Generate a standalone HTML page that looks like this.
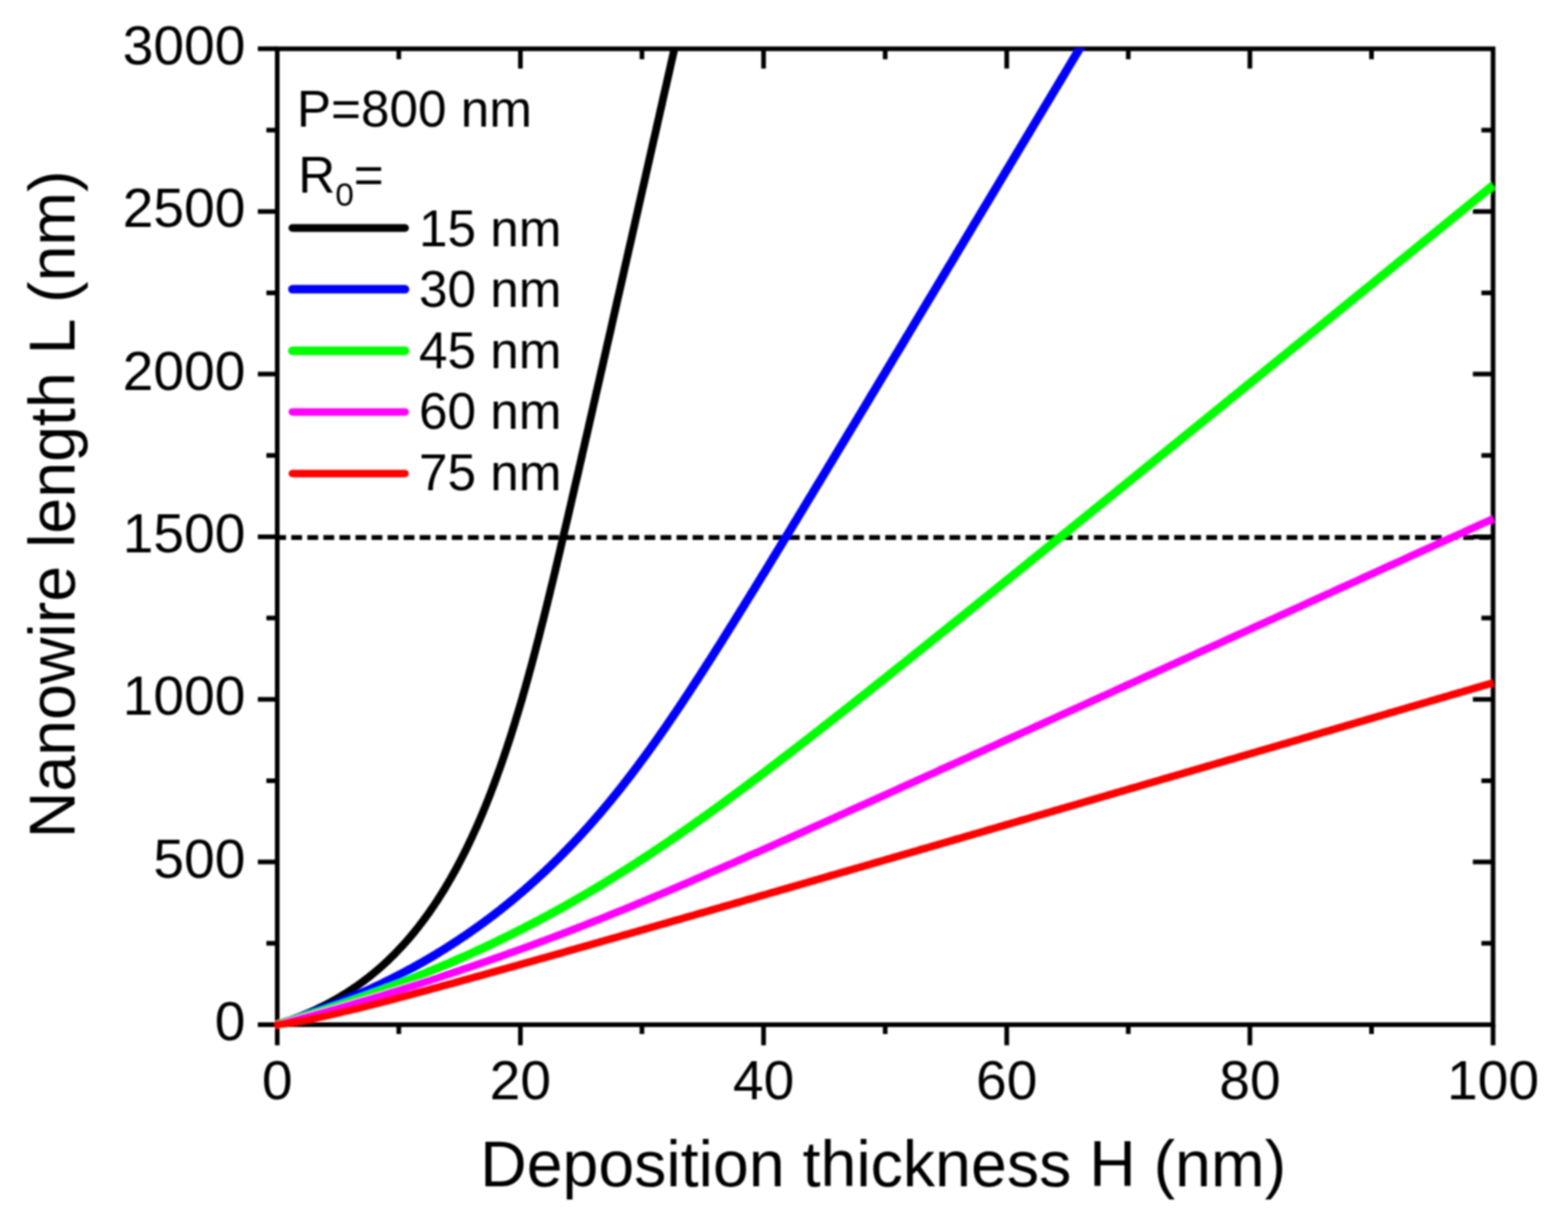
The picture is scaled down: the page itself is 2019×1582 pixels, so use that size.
<!DOCTYPE html>
<html><head><meta charset="utf-8"><style>
html,body{margin:0;padding:0;background:#fff;}
svg{display:block;}
text{font-family:"Liberation Sans",Arial,sans-serif;fill:#000;}
</style></head><body>
<svg width="2019" height="1582" viewBox="0 0 2019 1582">
<rect width="2019" height="1582" fill="#fff"/>
<defs><filter id="soft" x="0" y="0" width="2019" height="1582" filterUnits="userSpaceOnUse"><feGaussianBlur stdDeviation="0.9"/></filter><clipPath id="pc"><rect x="354" y="62.6" width="1570.8" height="1261.4"/></clipPath></defs>
<g filter="url(#soft)">
<g fill="none" stroke="#000" stroke-width="6">
<rect x="357.0" y="62.8" width="1565.5" height="1256.2"/>
<path d="M332.0 1319.0H357.0 M343.0 1214.3H357.0 M1907.5 1214.3H1922.5 M332.0 1109.6H357.0 M1896.5 1109.6H1922.5 M343.0 1005.0H357.0 M1907.5 1005.0H1922.5 M332.0 900.3H357.0 M1896.5 900.3H1922.5 M343.0 795.6H357.0 M1907.5 795.6H1922.5 M332.0 690.9H357.0 M1896.5 690.9H1922.5 M343.0 586.2H357.0 M1907.5 586.2H1922.5 M332.0 481.5H357.0 M1896.5 481.5H1922.5 M343.0 376.9H357.0 M1907.5 376.9H1922.5 M332.0 272.2H357.0 M1896.5 272.2H1922.5 M343.0 167.5H357.0 M1907.5 167.5H1922.5 M332.0 62.8H357.0 M357.0 1319.0V1345.5 M513.5 1319.0V1331.0 M513.5 62.8V76.3 M670.1 1319.0V1345.5 M670.1 62.8V88.3 M826.6 1319.0V1331.0 M826.6 62.8V76.3 M983.2 1319.0V1345.5 M983.2 62.8V88.3 M1139.8 1319.0V1331.0 M1139.8 62.8V76.3 M1296.3 1319.0V1345.5 M1296.3 62.8V88.3 M1452.8 1319.0V1331.0 M1452.8 62.8V76.3 M1609.4 1319.0V1345.5 M1609.4 62.8V88.3 M1766.0 1319.0V1331.0 M1766.0 62.8V76.3 M1922.5 1319.0V1345.5"/>
</g>
<path d="M354.4 691.9H1922.5" stroke="#000" stroke-width="6.4" stroke-dasharray="13.9 6.77" fill="none"/>
<g fill="none" clip-path="url(#pc)" stroke-linejoin="round">
<path d="M352.3 1320.5 L357.0 1319.0 L360.9 1317.7 L364.8 1316.4 L368.7 1315.0 L372.7 1313.7 L376.6 1312.2 L380.5 1310.7 L384.4 1309.2 L388.3 1307.6 L392.2 1306.0 L396.1 1304.3 L400.1 1302.6 L404.0 1300.9 L407.9 1299.0 L411.8 1297.1 L415.7 1295.2 L419.6 1293.2 L423.5 1291.2 L425.5 1290.1 L427.4 1289.0 L429.4 1288.0 L431.4 1286.9 L433.3 1285.8 L435.3 1284.6 L437.2 1283.5 L439.2 1282.3 L441.1 1281.1 L443.1 1279.9 L445.1 1278.7 L447.0 1277.5 L449.0 1276.2 L450.9 1274.9 L452.9 1273.7 L454.8 1272.3 L456.8 1271.0 L458.8 1269.7 L460.7 1268.3 L462.7 1266.9 L464.6 1265.5 L466.6 1264.0 L468.5 1262.6 L470.5 1261.1 L472.5 1259.6 L474.4 1258.1 L476.4 1256.5 L478.3 1255.0 L480.3 1253.4 L482.2 1251.8 L484.2 1250.1 L486.2 1248.5 L488.1 1246.8 L490.1 1245.1 L492.0 1243.3 L494.0 1241.6 L495.9 1239.8 L497.9 1238.0 L499.9 1236.1 L501.8 1234.2 L503.8 1232.3 L505.7 1230.4 L507.7 1228.5 L509.6 1226.5 L511.6 1224.4 L513.5 1222.4 L515.5 1220.3 L517.5 1218.2 L519.4 1216.1 L521.4 1213.9 L523.3 1211.7 L525.3 1209.5 L527.2 1207.2 L529.2 1204.9 L531.2 1202.5 L533.1 1200.2 L535.1 1197.8 L537.0 1195.3 L539.0 1192.8 L540.9 1190.3 L542.9 1187.7 L544.9 1185.2 L546.8 1182.5 L548.8 1179.8 L550.7 1177.1 L552.7 1174.4 L554.6 1171.6 L556.6 1168.7 L558.6 1165.9 L560.5 1162.9 L562.5 1160.0 L564.4 1157.0 L566.4 1153.9 L568.3 1150.8 L570.3 1147.7 L572.3 1144.5 L574.2 1141.2 L576.2 1137.9 L578.1 1134.6 L580.1 1131.2 L582.0 1127.8 L584.0 1124.3 L586.0 1120.7 L587.9 1117.1 L589.9 1113.5 L591.8 1109.8 L593.8 1106.0 L595.7 1102.2 L597.7 1098.3 L599.7 1094.4 L601.6 1090.4 L603.6 1086.3 L605.5 1082.2 L607.5 1078.1 L609.4 1073.8 L611.4 1069.5 L613.4 1065.2 L615.3 1060.7 L617.3 1056.2 L619.2 1051.7 L621.2 1047.1 L623.1 1042.4 L625.1 1037.6 L627.0 1032.8 L629.0 1027.9 L631.0 1022.9 L632.9 1017.8 L634.9 1012.7 L636.8 1007.5 L638.8 1002.2 L640.7 996.9 L642.7 991.4 L644.7 985.9 L646.6 980.3 L648.6 974.6 L650.5 968.9 L652.5 963.0 L654.4 957.1 L656.4 951.1 L658.4 945.0 L660.3 938.8 L662.3 932.6 L664.2 926.2 L666.2 919.8 L668.1 913.3 L670.1 906.7 L672.1 900.0 L674.0 893.2 L676.0 886.4 L677.9 879.4 L679.9 872.4 L681.8 865.3 L683.8 858.1 L685.8 850.8 L687.7 843.5 L689.7 836.0 L691.6 828.5 L693.6 821.0 L695.5 813.3 L697.5 805.6 L699.5 797.8 L701.4 790.0 L703.4 782.1 L705.3 774.2 L707.3 766.2 L709.2 758.1 L711.2 750.1 L713.2 741.9 L715.1 733.8 L717.1 725.5 L719.0 717.3 L721.0 709.0 L722.9 700.7 L724.9 692.4 L726.8 684.0 L728.8 675.7 L730.8 667.3 L732.7 658.8 L734.7 650.4 L736.6 642.0 L738.6 633.5 L740.5 625.0 L742.5 616.5 L744.5 608.0 L746.4 599.5 L748.4 591.0 L750.3 582.4 L752.3 573.9 L754.2 565.3 L756.2 556.8 L758.2 548.2 L760.1 539.7 L762.1 531.1 L764.0 522.5 L766.0 513.9 L767.9 505.4 L769.9 496.8 L771.9 488.2 L773.8 479.6 L775.8 471.0 L777.7 462.4 L779.7 453.8 L781.6 445.2 L783.6 436.6 L785.6 428.0 L787.5 419.4 L789.5 410.7 L791.4 402.1 L793.4 393.5 L795.3 384.9 L797.3 376.3 L799.3 367.7 L801.2 359.1 L803.2 350.4 L805.1 341.8 L807.1 333.2 L809.0 324.6 L811.0 315.9 L813.0 307.3 L814.9 298.7 L816.9 290.1 L818.8 281.5 L820.8 272.8 L822.7 264.2 L824.7 255.6 L826.6 247.0 L828.6 238.3 L830.6 229.7 L832.5 221.1 L834.5 212.4 L836.4 203.8 L838.4 195.2 L840.3 186.6 L842.3 177.9 L844.3 169.3 L846.2 160.7 L848.2 152.0 L850.1 143.4 L852.1 134.8 L854.0 126.2 L856.0 117.5 L858.0 108.9 L859.9 100.3 L861.9 91.6 L863.8 83.0 L865.8 74.4 L867.7 65.8 L869.7 57.1 L871.7 48.5 L873.6 39.9" stroke="#000000" stroke-width="10.0"/>
<path d="M352.3 1320.5 L357.0 1319.0 L360.9 1317.8 L364.8 1316.5 L368.7 1315.2 L372.7 1313.9 L376.6 1312.6 L380.5 1311.3 L384.4 1310.0 L388.3 1308.6 L392.2 1307.3 L396.1 1305.9 L400.1 1304.5 L404.0 1303.1 L407.9 1301.6 L411.8 1300.2 L415.7 1298.7 L419.6 1297.2 L423.5 1295.7 L427.4 1294.1 L431.4 1292.6 L435.3 1291.0 L439.2 1289.4 L443.1 1287.8 L447.0 1286.2 L450.9 1284.5 L454.8 1282.9 L458.8 1281.2 L462.7 1279.5 L466.6 1277.7 L470.5 1276.0 L474.4 1274.2 L478.3 1272.4 L482.2 1270.6 L486.2 1268.7 L490.1 1266.9 L494.0 1265.0 L497.9 1263.0 L501.8 1261.1 L505.7 1259.1 L509.6 1257.1 L513.5 1255.1 L517.5 1253.1 L521.4 1251.0 L525.3 1248.9 L527.2 1247.9 L529.2 1246.8 L531.2 1245.7 L533.1 1244.7 L535.1 1243.6 L537.0 1242.5 L539.0 1241.4 L540.9 1240.3 L542.9 1239.2 L544.9 1238.1 L546.8 1236.9 L548.8 1235.8 L550.7 1234.7 L552.7 1233.5 L554.6 1232.4 L556.6 1231.2 L558.6 1230.0 L560.5 1228.9 L562.5 1227.7 L564.4 1226.5 L566.4 1225.3 L568.3 1224.1 L570.3 1222.9 L572.3 1221.7 L574.2 1220.4 L576.2 1219.2 L578.1 1218.0 L580.1 1216.7 L582.0 1215.5 L584.0 1214.2 L586.0 1212.9 L587.9 1211.6 L589.9 1210.3 L591.8 1209.0 L593.8 1207.7 L595.7 1206.4 L597.7 1205.1 L599.7 1203.8 L601.6 1202.4 L603.6 1201.1 L605.5 1199.7 L607.5 1198.4 L609.4 1197.0 L611.4 1195.6 L613.4 1194.2 L615.3 1192.8 L617.3 1191.4 L619.2 1190.0 L621.2 1188.6 L623.1 1187.2 L625.1 1185.7 L627.0 1184.3 L629.0 1182.8 L631.0 1181.3 L632.9 1179.8 L634.9 1178.4 L636.8 1176.9 L638.8 1175.4 L640.7 1173.8 L642.7 1172.3 L644.7 1170.8 L646.6 1169.2 L648.6 1167.7 L650.5 1166.1 L652.5 1164.5 L654.4 1163.0 L656.4 1161.4 L658.4 1159.8 L660.3 1158.1 L662.3 1156.5 L664.2 1154.9 L666.2 1153.2 L668.1 1151.6 L670.1 1149.9 L672.1 1148.3 L674.0 1146.6 L676.0 1144.9 L677.9 1143.2 L679.9 1141.5 L681.8 1139.7 L683.8 1138.0 L685.8 1136.2 L687.7 1134.5 L689.7 1132.7 L691.6 1130.9 L693.6 1129.1 L695.5 1127.3 L697.5 1125.5 L699.5 1123.7 L701.4 1121.9 L703.4 1120.0 L705.3 1118.1 L707.3 1116.3 L709.2 1114.4 L711.2 1112.5 L713.2 1110.6 L715.1 1108.7 L717.1 1106.7 L719.0 1104.8 L721.0 1102.8 L722.9 1100.9 L724.9 1098.9 L726.8 1096.9 L728.8 1094.9 L730.8 1092.9 L732.7 1090.9 L734.7 1088.8 L736.6 1086.8 L738.6 1084.7 L740.5 1082.6 L742.5 1080.6 L744.5 1078.5 L746.4 1076.3 L748.4 1074.2 L750.3 1072.1 L752.3 1069.9 L754.2 1067.8 L756.2 1065.6 L758.2 1063.4 L760.1 1061.2 L762.1 1059.0 L764.0 1056.7 L766.0 1054.5 L767.9 1052.2 L769.9 1050.0 L771.9 1047.7 L773.8 1045.4 L775.8 1043.1 L777.7 1040.8 L779.7 1038.4 L781.6 1036.1 L783.6 1033.7 L785.6 1031.4 L787.5 1029.0 L789.5 1026.6 L791.4 1024.2 L793.4 1021.7 L795.3 1019.3 L797.3 1016.8 L799.3 1014.4 L801.2 1011.9 L803.2 1009.4 L805.1 1006.9 L807.1 1004.4 L809.0 1001.9 L811.0 999.3 L813.0 996.8 L814.9 994.2 L816.9 991.6 L818.8 989.0 L820.8 986.4 L822.7 983.8 L824.7 981.1 L826.6 978.5 L828.6 975.8 L830.6 973.2 L832.5 970.5 L834.5 967.8 L836.4 965.1 L838.4 962.4 L840.3 959.6 L842.3 956.9 L844.3 954.1 L846.2 951.4 L848.2 948.6 L850.1 945.8 L852.1 943.0 L854.0 940.2 L856.0 937.4 L858.0 934.5 L859.9 931.7 L861.9 928.8 L863.8 926.0 L865.8 923.1 L867.7 920.2 L869.7 917.3 L871.7 914.4 L873.6 911.5 L875.6 908.6 L877.5 905.7 L879.5 902.7 L881.4 899.8 L883.4 896.8 L885.4 893.9 L887.3 890.9 L889.3 887.9 L891.2 884.9 L893.2 881.9 L895.1 878.9 L897.1 875.9 L899.1 872.9 L901.0 869.9 L903.0 866.8 L904.9 863.8 L906.9 860.7 L908.8 857.7 L910.8 854.6 L912.8 851.6 L914.7 848.5 L916.7 845.4 L918.6 842.4 L920.6 839.3 L922.5 836.2 L924.5 833.1 L926.5 830.0 L928.4 826.9 L930.4 823.8 L932.3 820.7 L934.3 817.5 L936.2 814.4 L938.2 811.3 L940.1 808.1 L942.1 805.0 L944.1 801.9 L946.0 798.7 L948.0 795.6 L949.9 792.4 L951.9 789.3 L953.8 786.1 L955.8 783.0 L957.8 779.8 L959.7 776.6 L961.7 773.5 L963.6 770.3 L965.6 767.1 L967.5 763.9 L969.5 760.8 L971.5 757.6 L973.4 754.4 L975.4 751.2 L977.3 748.0 L979.3 744.8 L981.2 741.6 L983.2 738.5 L985.2 735.3 L987.1 732.1 L989.1 728.9 L991.0 725.7 L993.0 722.5 L994.9 719.2 L996.9 716.0 L998.9 712.8 L1000.8 709.6 L1002.8 706.4 L1004.7 703.2 L1006.7 700.0 L1008.6 696.8 L1010.6 693.5 L1012.6 690.3 L1014.5 687.1 L1016.5 683.9 L1018.4 680.7 L1020.4 677.4 L1022.3 674.2 L1024.3 671.0 L1026.3 667.8 L1028.2 664.5 L1030.2 661.3 L1032.1 658.1 L1034.1 654.9 L1036.0 651.6 L1038.0 648.4 L1039.9 645.2 L1041.9 641.9 L1043.9 638.7 L1045.8 635.5 L1047.8 632.2 L1049.7 629.0 L1051.7 625.7 L1053.6 622.5 L1055.6 619.3 L1057.6 616.0 L1059.5 612.8 L1061.5 609.6 L1063.4 606.3 L1065.4 603.1 L1067.3 599.8 L1069.3 596.6 L1071.3 593.3 L1073.2 590.1 L1075.2 586.9 L1077.1 583.6 L1079.1 580.4 L1081.0 577.1 L1083.0 573.9 L1085.0 570.6 L1086.9 567.4 L1088.9 564.1 L1090.8 560.9 L1092.8 557.6 L1094.7 554.4 L1096.7 551.1 L1098.7 547.9 L1100.6 544.7 L1102.6 541.4 L1104.5 538.2 L1106.5 534.9 L1108.4 531.7 L1110.4 528.4 L1112.4 525.2 L1114.3 521.9 L1116.3 518.7 L1118.2 515.4 L1120.2 512.1 L1122.1 508.9 L1124.1 505.6 L1126.1 502.4 L1128.0 499.1 L1130.0 495.9 L1131.9 492.6 L1133.9 489.4 L1135.8 486.1 L1137.8 482.9 L1139.8 479.6 L1141.7 476.4 L1143.7 473.1 L1145.6 469.9 L1147.6 466.6 L1149.5 463.3 L1151.5 460.1 L1153.4 456.8 L1155.4 453.6 L1157.4 450.3 L1159.3 447.1 L1161.3 443.8 L1163.2 440.6 L1165.2 437.3 L1167.1 434.0 L1169.1 430.8 L1171.1 427.5 L1173.0 424.3 L1175.0 421.0 L1176.9 417.8 L1178.9 414.5 L1180.8 411.3 L1182.8 408.0 L1184.8 404.7 L1186.7 401.5 L1188.7 398.2 L1190.6 395.0 L1192.6 391.7 L1194.5 388.5 L1196.5 385.2 L1198.5 381.9 L1200.4 378.7 L1202.4 375.4 L1204.3 372.2 L1206.3 368.9 L1208.2 365.6 L1210.2 362.4 L1212.2 359.1 L1214.1 355.9 L1216.1 352.6 L1218.0 349.4 L1220.0 346.1 L1221.9 342.8 L1223.9 339.6 L1225.9 336.3 L1227.8 333.1 L1229.8 329.8 L1231.7 326.5 L1233.7 323.3 L1235.6 320.0 L1237.6 316.8 L1239.6 313.5 L1241.5 310.2 L1243.5 307.0 L1245.4 303.7 L1247.4 300.5 L1249.3 297.2 L1251.3 294.0 L1253.2 290.7 L1255.2 287.4 L1257.2 284.2 L1259.1 280.9 L1261.1 277.7 L1263.0 274.4 L1265.0 271.1 L1266.9 267.9 L1268.9 264.6 L1270.9 261.4 L1272.8 258.1 L1274.8 254.8 L1276.7 251.6 L1278.7 248.3 L1280.6 245.1 L1282.6 241.8 L1284.6 238.5 L1286.5 235.3 L1288.5 232.0 L1290.4 228.8 L1292.4 225.5 L1294.3 222.2 L1296.3 219.0 L1298.3 215.7 L1300.2 212.4 L1302.2 209.2 L1304.1 205.9 L1306.1 202.7 L1308.0 199.4 L1310.0 196.1 L1312.0 192.9 L1313.9 189.6 L1315.9 186.4 L1317.8 183.1 L1319.8 179.8 L1321.7 176.6 L1323.7 173.3 L1325.7 170.1 L1327.6 166.8 L1329.6 163.5 L1331.5 160.3 L1333.5 157.0 L1335.4 153.8 L1337.4 150.5 L1339.4 147.2 L1341.3 144.0 L1343.3 140.7 L1345.2 137.4 L1347.2 134.2 L1349.1 130.9 L1351.1 127.7 L1353.0 124.4 L1355.0 121.1 L1357.0 117.9 L1358.9 114.6 L1360.9 111.4 L1362.8 108.1 L1364.8 104.8 L1366.7 101.6 L1368.7 98.3 L1370.7 95.1 L1372.6 91.8 L1374.6 88.5 L1376.5 85.3 L1378.5 82.0 L1380.4 78.7 L1382.4 75.5 L1384.4 72.2 L1386.3 69.0 L1388.3 65.7 L1390.2 62.4 L1392.2 59.2 L1394.1 55.9 L1396.1 52.7 L1398.1 49.4 L1400.0 46.1" stroke="#0000ff" stroke-width="11.0"/>
<path d="M352.3 1320.4 L357.0 1319.0 L360.9 1317.9 L364.8 1316.7 L368.7 1315.5 L372.7 1314.4 L376.6 1313.2 L380.5 1312.0 L384.4 1310.8 L388.3 1309.6 L392.2 1308.4 L396.1 1307.2 L400.1 1306.0 L404.0 1304.7 L407.9 1303.5 L411.8 1302.2 L415.7 1301.0 L419.6 1299.7 L423.5 1298.4 L427.4 1297.1 L431.4 1295.8 L435.3 1294.5 L439.2 1293.2 L443.1 1291.9 L447.0 1290.5 L450.9 1289.2 L454.8 1287.8 L458.8 1286.5 L462.7 1285.1 L466.6 1283.7 L470.5 1282.3 L474.4 1280.9 L478.3 1279.5 L482.2 1278.1 L486.2 1276.7 L490.1 1275.2 L494.0 1273.8 L497.9 1272.3 L501.8 1270.9 L505.7 1269.4 L509.6 1267.9 L513.5 1266.4 L517.5 1264.9 L521.4 1263.3 L525.3 1261.8 L529.2 1260.3 L533.1 1258.7 L537.0 1257.1 L540.9 1255.6 L544.9 1254.0 L548.8 1252.4 L552.7 1250.8 L556.6 1249.1 L560.5 1247.5 L564.4 1245.9 L568.3 1244.2 L572.3 1242.5 L576.2 1240.9 L580.1 1239.2 L584.0 1237.5 L587.9 1235.7 L591.8 1234.0 L595.7 1232.3 L599.7 1230.5 L603.6 1228.8 L607.5 1227.0 L611.4 1225.2 L615.3 1223.4 L619.2 1221.6 L623.1 1219.8 L627.0 1217.9 L631.0 1216.1 L634.9 1214.2 L638.8 1212.3 L642.7 1210.4 L646.6 1208.5 L650.5 1206.6 L654.4 1204.7 L658.4 1202.8 L662.3 1200.8 L666.2 1198.8 L670.1 1196.9 L674.0 1194.9 L677.9 1192.8 L681.8 1190.8 L685.8 1188.8 L689.7 1186.7 L693.6 1184.7 L697.5 1182.6 L699.5 1181.6 L701.4 1180.5 L703.4 1179.5 L705.3 1178.4 L707.3 1177.3 L709.2 1176.3 L711.2 1175.2 L713.2 1174.2 L715.1 1173.1 L717.1 1172.0 L719.0 1170.9 L721.0 1169.8 L722.9 1168.8 L724.9 1167.7 L726.8 1166.6 L728.8 1165.5 L730.8 1164.4 L732.7 1163.3 L734.7 1162.2 L736.6 1161.1 L738.6 1159.9 L740.5 1158.8 L742.5 1157.7 L744.5 1156.6 L746.4 1155.4 L748.4 1154.3 L750.3 1153.2 L752.3 1152.0 L754.2 1150.9 L756.2 1149.7 L758.2 1148.6 L760.1 1147.4 L762.1 1146.3 L764.0 1145.1 L766.0 1144.0 L767.9 1142.8 L769.9 1141.6 L771.9 1140.4 L773.8 1139.3 L775.8 1138.1 L777.7 1136.9 L779.7 1135.7 L781.6 1134.5 L783.6 1133.3 L785.6 1132.1 L787.5 1130.9 L789.5 1129.7 L791.4 1128.5 L793.4 1127.3 L795.3 1126.1 L797.3 1124.8 L799.3 1123.6 L801.2 1122.4 L803.2 1121.2 L805.1 1119.9 L807.1 1118.7 L809.0 1117.4 L811.0 1116.2 L813.0 1114.9 L814.9 1113.7 L816.9 1112.4 L818.8 1111.2 L820.8 1109.9 L822.7 1108.6 L824.7 1107.4 L826.6 1106.1 L828.6 1104.8 L830.6 1103.5 L832.5 1102.3 L834.5 1101.0 L836.4 1099.7 L838.4 1098.4 L840.3 1097.1 L842.3 1095.8 L844.3 1094.5 L846.2 1093.2 L848.2 1091.9 L850.1 1090.6 L852.1 1089.2 L854.0 1087.9 L856.0 1086.6 L858.0 1085.3 L859.9 1083.9 L861.9 1082.6 L863.8 1081.3 L865.8 1079.9 L867.7 1078.6 L869.7 1077.3 L871.7 1075.9 L873.6 1074.6 L875.6 1073.2 L877.5 1071.9 L879.5 1070.5 L881.4 1069.1 L883.4 1067.8 L885.4 1066.4 L887.3 1065.0 L889.3 1063.7 L891.2 1062.3 L893.2 1060.9 L895.1 1059.5 L897.1 1058.1 L899.1 1056.7 L901.0 1055.4 L903.0 1054.0 L904.9 1052.6 L906.9 1051.2 L908.8 1049.8 L910.8 1048.4 L912.8 1047.0 L914.7 1045.6 L916.7 1044.2 L918.6 1042.7 L920.6 1041.3 L922.5 1039.9 L924.5 1038.5 L926.5 1037.1 L928.4 1035.6 L930.4 1034.2 L932.3 1032.8 L934.3 1031.4 L936.2 1029.9 L938.2 1028.5 L940.1 1027.1 L942.1 1025.6 L944.1 1024.2 L946.0 1022.7 L948.0 1021.3 L949.9 1019.8 L951.9 1018.4 L953.8 1016.9 L955.8 1015.5 L957.8 1014.0 L959.7 1012.6 L961.7 1011.1 L963.6 1009.6 L965.6 1008.2 L967.5 1006.7 L969.5 1005.2 L971.5 1003.8 L973.4 1002.3 L975.4 1000.8 L977.3 999.4 L979.3 997.9 L981.2 996.4 L983.2 994.9 L985.2 993.4 L987.1 992.0 L989.1 990.5 L991.0 989.0 L993.0 987.5 L994.9 986.0 L996.9 984.5 L998.9 983.0 L1000.8 981.5 L1002.8 980.0 L1004.7 978.5 L1006.7 977.0 L1008.6 975.5 L1010.6 974.0 L1012.6 972.5 L1014.5 971.0 L1016.5 969.5 L1018.4 968.0 L1020.4 966.5 L1022.3 965.0 L1024.3 963.5 L1026.3 962.0 L1028.2 960.5 L1030.2 959.0 L1032.1 957.5 L1034.1 955.9 L1036.0 954.4 L1038.0 952.9 L1039.9 951.4 L1041.9 949.9 L1043.9 948.3 L1045.8 946.8 L1047.8 945.3 L1049.7 943.8 L1051.7 942.3 L1053.6 940.7 L1055.6 939.2 L1057.6 937.7 L1059.5 936.1 L1061.5 934.6 L1063.4 933.1 L1065.4 931.5 L1067.3 930.0 L1069.3 928.5 L1071.3 926.9 L1073.2 925.4 L1075.2 923.9 L1077.1 922.3 L1079.1 920.8 L1081.0 919.3 L1083.0 917.7 L1085.0 916.2 L1086.9 914.6 L1088.9 913.1 L1090.8 911.6 L1092.8 910.0 L1094.7 908.5 L1096.7 906.9 L1098.7 905.4 L1100.6 903.8 L1102.6 902.3 L1104.5 900.7 L1106.5 899.2 L1108.4 897.7 L1110.4 896.1 L1112.4 894.6 L1114.3 893.0 L1116.3 891.5 L1118.2 889.9 L1120.2 888.4 L1122.1 886.8 L1124.1 885.2 L1126.1 883.7 L1128.0 882.1 L1130.0 880.6 L1131.9 879.0 L1133.9 877.5 L1135.8 875.9 L1137.8 874.4 L1139.8 872.8 L1141.7 871.2 L1143.7 869.7 L1145.6 868.1 L1147.6 866.6 L1149.5 865.0 L1151.5 863.5 L1153.4 861.9 L1155.4 860.3 L1157.4 858.8 L1159.3 857.2 L1161.3 855.6 L1163.2 854.1 L1165.2 852.5 L1167.1 851.0 L1169.1 849.4 L1171.1 847.8 L1173.0 846.3 L1175.0 844.7 L1176.9 843.1 L1178.9 841.6 L1180.8 840.0 L1182.8 838.4 L1184.8 836.9 L1186.7 835.3 L1188.7 833.7 L1190.6 832.2 L1192.6 830.6 L1194.5 829.0 L1196.5 827.5 L1198.5 825.9 L1200.4 824.3 L1202.4 822.8 L1204.3 821.2 L1206.3 819.6 L1208.2 818.0 L1210.2 816.5 L1212.2 814.9 L1214.1 813.3 L1216.1 811.8 L1218.0 810.2 L1220.0 808.6 L1221.9 807.0 L1223.9 805.5 L1225.9 803.9 L1227.8 802.3 L1229.8 800.8 L1231.7 799.2 L1233.7 797.6 L1235.6 796.0 L1237.6 794.5 L1239.6 792.9 L1241.5 791.3 L1243.5 789.7 L1245.4 788.2 L1247.4 786.6 L1249.3 785.0 L1251.3 783.4 L1253.2 781.9 L1255.2 780.3 L1257.2 778.7 L1259.1 777.1 L1261.1 775.6 L1263.0 774.0 L1265.0 772.4 L1266.9 770.8 L1268.9 769.2 L1270.9 767.7 L1272.8 766.1 L1274.8 764.5 L1276.7 762.9 L1278.7 761.4 L1280.6 759.8 L1282.6 758.2 L1284.6 756.6 L1286.5 755.0 L1288.5 753.5 L1290.4 751.9 L1292.4 750.3 L1294.3 748.7 L1296.3 747.1 L1298.3 745.6 L1300.2 744.0 L1302.2 742.4 L1304.1 740.8 L1306.1 739.2 L1308.0 737.7 L1310.0 736.1 L1312.0 734.5 L1313.9 732.9 L1315.9 731.3 L1317.8 729.7 L1319.8 728.2 L1321.7 726.6 L1323.7 725.0 L1325.7 723.4 L1327.6 721.8 L1329.6 720.3 L1331.5 718.7 L1333.5 717.1 L1335.4 715.5 L1337.4 713.9 L1339.4 712.3 L1341.3 710.8 L1343.3 709.2 L1345.2 707.6 L1347.2 706.0 L1349.1 704.4 L1351.1 702.8 L1353.0 701.3 L1355.0 699.7 L1357.0 698.1 L1358.9 696.5 L1360.9 694.9 L1362.8 693.3 L1364.8 691.8 L1366.7 690.2 L1368.7 688.6 L1370.7 687.0 L1372.6 685.4 L1374.6 683.8 L1376.5 682.3 L1378.5 680.7 L1380.4 679.1 L1382.4 677.5 L1384.4 675.9 L1386.3 674.3 L1388.3 672.7 L1390.2 671.2 L1392.2 669.6 L1394.1 668.0 L1396.1 666.4 L1398.1 664.8 L1400.0 663.2 L1402.0 661.6 L1403.9 660.1 L1405.9 658.5 L1407.8 656.9 L1409.8 655.3 L1411.8 653.7 L1413.7 652.1 L1415.7 650.5 L1417.6 649.0 L1419.6 647.4 L1421.5 645.8 L1423.5 644.2 L1425.5 642.6 L1427.4 641.0 L1429.4 639.4 L1431.3 637.9 L1433.3 636.3 L1435.2 634.7 L1437.2 633.1 L1439.2 631.5 L1441.1 629.9 L1443.1 628.3 L1445.0 626.7 L1447.0 625.2 L1448.9 623.6 L1450.9 622.0 L1452.8 620.4 L1454.8 618.8 L1456.8 617.2 L1458.7 615.6 L1460.7 614.0 L1462.6 612.5 L1464.6 610.9 L1466.5 609.3 L1468.5 607.7 L1470.5 606.1 L1472.4 604.5 L1474.4 602.9 L1476.3 601.3 L1478.3 599.8 L1480.2 598.2 L1482.2 596.6 L1484.2 595.0 L1486.1 593.4 L1488.1 591.8 L1490.0 590.2 L1492.0 588.6 L1493.9 587.0 L1495.9 585.5 L1497.9 583.9 L1499.8 582.3 L1501.8 580.7 L1503.7 579.1 L1505.7 577.5 L1507.6 575.9 L1509.6 574.3 L1511.6 572.7 L1513.5 571.2 L1515.5 569.6 L1517.4 568.0 L1519.4 566.4 L1521.3 564.8 L1523.3 563.2 L1525.3 561.6 L1527.2 560.0 L1529.2 558.4 L1531.1 556.9 L1533.1 555.3 L1535.0 553.7 L1537.0 552.1 L1539.0 550.5 L1540.9 548.9 L1542.9 547.3 L1544.8 545.7 L1546.8 544.1 L1548.7 542.6 L1550.7 541.0 L1552.7 539.4 L1554.6 537.8 L1556.6 536.2 L1558.5 534.6 L1560.5 533.0 L1562.4 531.4 L1564.4 529.8 L1566.3 528.2 L1568.3 526.7 L1570.3 525.1 L1572.2 523.5 L1574.2 521.9 L1576.1 520.3 L1578.1 518.7 L1580.0 517.1 L1582.0 515.5 L1584.0 513.9 L1585.9 512.3 L1587.9 510.8 L1589.8 509.2 L1591.8 507.6 L1593.7 506.0 L1595.7 504.4 L1597.7 502.8 L1599.6 501.2 L1601.6 499.6 L1603.5 498.0 L1605.5 496.4 L1607.4 494.9 L1609.4 493.3 L1611.4 491.7 L1613.3 490.1 L1615.3 488.5 L1617.2 486.9 L1619.2 485.3 L1621.1 483.7 L1623.1 482.1 L1625.1 480.5 L1627.0 479.0 L1629.0 477.4 L1630.9 475.8 L1632.9 474.2 L1634.8 472.6 L1636.8 471.0 L1638.8 469.4 L1640.7 467.8 L1642.7 466.2 L1644.6 464.6 L1646.6 463.0 L1648.5 461.5 L1650.5 459.9 L1652.5 458.3 L1654.4 456.7 L1656.4 455.1 L1658.3 453.5 L1660.3 451.9 L1662.2 450.3 L1664.2 448.7 L1666.1 447.1 L1668.1 445.5 L1670.1 444.0 L1672.0 442.4 L1674.0 440.8 L1675.9 439.2 L1677.9 437.6 L1679.8 436.0 L1681.8 434.4 L1683.8 432.8 L1685.7 431.2 L1687.7 429.6 L1689.6 428.0 L1691.6 426.5 L1693.5 424.9 L1695.5 423.3 L1697.5 421.7 L1699.4 420.1 L1701.4 418.5 L1703.3 416.9 L1705.3 415.3 L1707.2 413.7 L1709.2 412.1 L1711.2 410.5 L1713.1 409.0 L1715.1 407.4 L1717.0 405.8 L1719.0 404.2 L1720.9 402.6 L1722.9 401.0 L1724.9 399.4 L1726.8 397.8 L1728.8 396.2 L1730.7 394.6 L1732.7 393.0 L1734.6 391.4 L1736.6 389.9 L1738.6 388.3 L1740.5 386.7 L1742.5 385.1 L1744.4 383.5 L1746.4 381.9 L1748.3 380.3 L1750.3 378.7 L1752.3 377.1 L1754.2 375.5 L1756.2 373.9 L1758.1 372.3 L1760.1 370.8 L1762.0 369.2 L1764.0 367.6 L1766.0 366.0 L1767.9 364.4 L1769.9 362.8 L1771.8 361.2 L1773.8 359.6 L1775.7 358.0 L1777.7 356.4 L1779.6 354.8 L1781.6 353.2 L1783.6 351.7 L1785.5 350.1 L1787.5 348.5 L1789.4 346.9 L1791.4 345.3 L1793.3 343.7 L1795.3 342.1 L1797.3 340.5 L1799.2 338.9 L1801.2 337.3 L1803.1 335.7 L1805.1 334.1 L1807.0 332.6 L1809.0 331.0 L1811.0 329.4 L1812.9 327.8 L1814.9 326.2 L1816.8 324.6 L1818.8 323.0 L1820.7 321.4 L1822.7 319.8 L1824.7 318.2 L1826.6 316.6 L1828.6 315.0 L1830.5 313.5 L1832.5 311.9 L1834.4 310.3 L1836.4 308.7 L1838.4 307.1 L1840.3 305.5 L1842.3 303.9 L1844.2 302.3 L1846.2 300.7 L1848.1 299.1 L1850.1 297.5 L1852.1 295.9 L1854.0 294.4 L1856.0 292.8 L1857.9 291.2 L1859.9 289.6 L1861.8 288.0 L1863.8 286.4 L1865.8 284.8 L1867.7 283.2 L1869.7 281.6 L1871.6 280.0 L1873.6 278.4 L1875.5 276.8 L1877.5 275.2 L1879.4 273.7 L1881.4 272.1 L1883.4 270.5 L1885.3 268.9 L1887.3 267.3 L1889.2 265.7 L1891.2 264.1 L1893.1 262.5 L1895.1 260.9 L1897.1 259.3 L1899.0 257.7 L1901.0 256.1 L1902.9 254.5 L1904.9 253.0 L1906.8 251.4 L1908.8 249.8 L1910.8 248.2 L1912.7 246.6 L1914.7 245.0 L1916.6 243.4 L1918.6 241.8 L1920.5 240.2 L1922.5 238.6" stroke="#00ff00" stroke-width="11.2"/>
<path d="M352.3 1320.2 L357.0 1319.0 L360.9 1318.0 L364.8 1316.9 L368.7 1315.9 L372.7 1314.9 L376.6 1313.8 L380.5 1312.8 L384.4 1311.7 L388.3 1310.6 L392.2 1309.6 L396.1 1308.5 L400.1 1307.4 L404.0 1306.4 L407.9 1305.3 L411.8 1304.2 L415.7 1303.1 L419.6 1302.0 L423.5 1300.9 L427.4 1299.8 L431.4 1298.7 L435.3 1297.6 L439.2 1296.5 L443.1 1295.4 L447.0 1294.2 L450.9 1293.1 L454.8 1292.0 L458.8 1290.8 L462.7 1289.7 L466.6 1288.5 L470.5 1287.4 L474.4 1286.2 L478.3 1285.1 L482.2 1283.9 L486.2 1282.7 L490.1 1281.6 L494.0 1280.4 L497.9 1279.2 L501.8 1278.0 L505.7 1276.8 L509.6 1275.6 L513.5 1274.4 L517.5 1273.2 L521.4 1272.0 L525.3 1270.8 L529.2 1269.5 L533.1 1268.3 L537.0 1267.1 L540.9 1265.8 L544.9 1264.6 L548.8 1263.3 L552.7 1262.1 L556.6 1260.8 L560.5 1259.6 L564.4 1258.3 L568.3 1257.0 L572.3 1255.7 L576.2 1254.4 L580.1 1253.2 L584.0 1251.9 L587.9 1250.6 L591.8 1249.3 L595.7 1247.9 L599.7 1246.6 L603.6 1245.3 L607.5 1244.0 L611.4 1242.6 L615.3 1241.3 L619.2 1240.0 L623.1 1238.6 L627.0 1237.3 L631.0 1235.9 L634.9 1234.5 L638.8 1233.2 L642.7 1231.8 L646.6 1230.4 L650.5 1229.0 L654.4 1227.6 L658.4 1226.2 L662.3 1224.8 L666.2 1223.4 L670.1 1222.0 L674.0 1220.6 L677.9 1219.2 L681.8 1217.7 L685.8 1216.3 L689.7 1214.8 L693.6 1213.4 L697.5 1211.9 L701.4 1210.5 L705.3 1209.0 L709.2 1207.5 L713.2 1206.1 L717.1 1204.6 L721.0 1203.1 L724.9 1201.6 L728.8 1200.1 L732.7 1198.6 L736.6 1197.1 L740.5 1195.6 L744.5 1194.1 L748.4 1192.5 L752.3 1191.0 L756.2 1189.5 L760.1 1187.9 L764.0 1186.4 L767.9 1184.8 L771.9 1183.3 L775.8 1181.7 L779.7 1180.2 L783.6 1178.6 L787.5 1177.0 L791.4 1175.4 L795.3 1173.9 L799.3 1172.3 L803.2 1170.7 L807.1 1169.1 L811.0 1167.5 L814.9 1165.9 L818.8 1164.2 L822.7 1162.6 L826.6 1161.0 L830.6 1159.4 L834.5 1157.7 L838.4 1156.1 L842.3 1154.5 L846.2 1152.8 L850.1 1151.2 L854.0 1149.5 L858.0 1147.9 L861.9 1146.2 L865.8 1144.5 L869.7 1142.9 L873.6 1141.2 L877.5 1139.5 L881.4 1137.9 L885.4 1136.2 L889.3 1134.5 L893.2 1132.8 L897.1 1131.1 L901.0 1129.4 L904.9 1127.7 L908.8 1126.0 L912.8 1124.3 L916.7 1122.6 L920.6 1120.9 L924.5 1119.2 L928.4 1117.5 L932.3 1115.8 L936.2 1114.1 L940.1 1112.4 L944.1 1110.7 L948.0 1108.9 L951.9 1107.2 L955.8 1105.5 L959.7 1103.8 L963.6 1102.0 L967.5 1100.3 L971.5 1098.6 L975.4 1096.9 L979.3 1095.1 L983.2 1093.4 L987.1 1091.6 L991.0 1089.9 L994.9 1088.2 L998.9 1086.4 L1002.8 1084.7 L1006.7 1082.9 L1010.6 1081.2 L1014.5 1079.5 L1018.4 1077.7 L1022.3 1076.0 L1026.3 1074.2 L1030.2 1072.5 L1034.1 1070.7 L1038.0 1069.0 L1041.9 1067.2 L1045.8 1065.4 L1049.7 1063.7 L1053.6 1061.9 L1057.6 1060.2 L1061.5 1058.4 L1065.4 1056.7 L1069.3 1054.9 L1073.2 1053.2 L1077.1 1051.4 L1081.0 1049.6 L1085.0 1047.9 L1088.9 1046.1 L1092.8 1044.3 L1096.7 1042.6 L1100.6 1040.8 L1104.5 1039.1 L1108.4 1037.3 L1112.4 1035.5 L1116.3 1033.8 L1120.2 1032.0 L1124.1 1030.2 L1128.0 1028.5 L1131.9 1026.7 L1135.8 1024.9 L1139.8 1023.2 L1143.7 1021.4 L1147.6 1019.6 L1151.5 1017.9 L1155.4 1016.1 L1159.3 1014.3 L1163.2 1012.6 L1167.1 1010.8 L1171.1 1009.0 L1175.0 1007.3 L1178.9 1005.5 L1182.8 1003.7 L1186.7 1001.9 L1190.6 1000.2 L1194.5 998.4 L1198.5 996.6 L1202.4 994.9 L1206.3 993.1 L1210.2 991.3 L1214.1 989.5 L1218.0 987.8 L1221.9 986.0 L1225.9 984.2 L1229.8 982.4 L1233.7 980.7 L1237.6 978.9 L1241.5 977.1 L1245.4 975.4 L1249.3 973.6 L1253.2 971.8 L1257.2 970.0 L1261.1 968.3 L1265.0 966.5 L1268.9 964.7 L1272.8 962.9 L1276.7 961.2 L1280.6 959.4 L1284.6 957.6 L1288.5 955.8 L1292.4 954.1 L1296.3 952.3 L1300.2 950.5 L1304.1 948.7 L1308.0 947.0 L1312.0 945.2 L1315.9 943.4 L1319.8 941.6 L1323.7 939.9 L1327.6 938.1 L1331.5 936.3 L1335.4 934.5 L1339.4 932.8 L1343.3 931.0 L1347.2 929.2 L1351.1 927.4 L1355.0 925.7 L1358.9 923.9 L1362.8 922.1 L1366.7 920.3 L1370.7 918.5 L1374.6 916.8 L1378.5 915.0 L1382.4 913.2 L1386.3 911.4 L1390.2 909.7 L1394.1 907.9 L1398.1 906.1 L1402.0 904.3 L1405.9 902.6 L1409.8 900.8 L1413.7 899.0 L1417.6 897.2 L1421.5 895.4 L1425.5 893.7 L1429.4 891.9 L1433.3 890.1 L1437.2 888.3 L1441.1 886.6 L1445.0 884.8 L1448.9 883.0 L1452.8 881.2 L1456.8 879.4 L1460.7 877.7 L1464.6 875.9 L1468.5 874.1 L1472.4 872.3 L1476.3 870.6 L1480.2 868.8 L1484.2 867.0 L1488.1 865.2 L1492.0 863.4 L1495.9 861.7 L1499.8 859.9 L1503.7 858.1 L1507.6 856.3 L1511.6 854.6 L1515.5 852.8 L1519.4 851.0 L1523.3 849.2 L1527.2 847.4 L1531.1 845.7 L1535.0 843.9 L1539.0 842.1 L1542.9 840.3 L1546.8 838.6 L1550.7 836.8 L1554.6 835.0 L1558.5 833.2 L1562.4 831.4 L1566.3 829.7 L1570.3 827.9 L1574.2 826.1 L1578.1 824.3 L1582.0 822.6 L1585.9 820.8 L1589.8 819.0 L1593.7 817.2 L1597.7 815.4 L1601.6 813.7 L1605.5 811.9 L1609.4 810.1 L1613.3 808.3 L1617.2 806.5 L1621.1 804.8 L1625.1 803.0 L1629.0 801.2 L1632.9 799.4 L1636.8 797.7 L1640.7 795.9 L1644.6 794.1 L1648.5 792.3 L1652.5 790.5 L1656.4 788.8 L1660.3 787.0 L1664.2 785.2 L1668.1 783.4 L1672.0 781.6 L1675.9 779.9 L1679.8 778.1 L1683.8 776.3 L1687.7 774.5 L1691.6 772.8 L1695.5 771.0 L1699.4 769.2 L1703.3 767.4 L1707.2 765.6 L1711.2 763.9 L1715.1 762.1 L1719.0 760.3 L1722.9 758.5 L1726.8 756.7 L1730.7 755.0 L1734.6 753.2 L1738.6 751.4 L1742.5 749.6 L1746.4 747.9 L1750.3 746.1 L1754.2 744.3 L1758.1 742.5 L1762.0 740.7 L1766.0 739.0 L1769.9 737.2 L1773.8 735.4 L1777.7 733.6 L1781.6 731.8 L1785.5 730.1 L1789.4 728.3 L1793.3 726.5 L1797.3 724.7 L1801.2 723.0 L1805.1 721.2 L1809.0 719.4 L1812.9 717.6 L1816.8 715.8 L1820.7 714.1 L1824.7 712.3 L1828.6 710.5 L1832.5 708.7 L1836.4 706.9 L1840.3 705.2 L1844.2 703.4 L1848.1 701.6 L1852.1 699.8 L1856.0 698.0 L1859.9 696.3 L1863.8 694.5 L1867.7 692.7 L1871.6 690.9 L1875.5 689.2 L1879.4 687.4 L1883.4 685.6 L1887.3 683.8 L1891.2 682.0 L1895.1 680.3 L1899.0 678.5 L1902.9 676.7 L1906.8 674.9 L1910.8 673.1 L1914.7 671.4 L1918.6 669.6 L1922.5 667.8" stroke="#ff00ff" stroke-width="9.8"/>
<path d="M352.3 1319.6 L357.0 1319.0 L360.9 1318.5 L364.8 1317.9 L368.7 1317.3 L372.7 1316.7 L376.6 1316.1 L380.5 1315.4 L384.4 1314.7 L388.3 1314.0 L392.2 1313.2 L396.1 1312.5 L400.1 1311.7 L404.0 1310.9 L407.9 1310.1 L411.8 1309.3 L415.7 1308.4 L419.6 1307.6 L423.5 1306.7 L427.4 1305.8 L431.4 1304.9 L435.3 1304.0 L439.2 1303.1 L443.1 1302.1 L447.0 1301.2 L450.9 1300.3 L454.8 1299.3 L458.8 1298.4 L462.7 1297.4 L466.6 1296.4 L470.5 1295.4 L474.4 1294.4 L478.3 1293.5 L482.2 1292.5 L486.2 1291.5 L490.1 1290.5 L494.0 1289.4 L497.9 1288.4 L501.8 1287.4 L505.7 1286.4 L509.6 1285.4 L513.5 1284.3 L517.5 1283.3 L521.4 1282.3 L525.3 1281.2 L529.2 1280.2 L533.1 1279.1 L537.0 1278.1 L540.9 1277.1 L544.9 1276.0 L548.8 1274.9 L552.7 1273.9 L556.6 1272.8 L560.5 1271.8 L564.4 1270.7 L568.3 1269.6 L572.3 1268.6 L576.2 1267.5 L580.1 1266.4 L584.0 1265.4 L587.9 1264.3 L591.8 1263.2 L595.7 1262.1 L599.7 1261.1 L603.6 1260.0 L607.5 1258.9 L611.4 1257.8 L615.3 1256.7 L619.2 1255.7 L623.1 1254.6 L627.0 1253.5 L631.0 1252.4 L634.9 1251.3 L638.8 1250.2 L642.7 1249.1 L646.6 1248.0 L650.5 1247.0 L654.4 1245.9 L658.4 1244.8 L662.3 1243.7 L666.2 1242.6 L670.1 1241.5 L674.0 1240.4 L677.9 1239.3 L681.8 1238.2 L685.8 1237.1 L689.7 1236.0 L693.6 1234.9 L697.5 1233.8 L701.4 1232.7 L705.3 1231.6 L709.2 1230.5 L713.2 1229.4 L717.1 1228.3 L721.0 1227.2 L724.9 1226.1 L728.8 1224.9 L732.7 1223.8 L736.6 1222.7 L740.5 1221.6 L744.5 1220.5 L748.4 1219.4 L752.3 1218.3 L756.2 1217.2 L760.1 1216.1 L764.0 1215.0 L767.9 1213.9 L771.9 1212.7 L775.8 1211.6 L779.7 1210.5 L783.6 1209.4 L787.5 1208.3 L791.4 1207.2 L795.3 1206.1 L799.3 1204.9 L803.2 1203.8 L807.1 1202.7 L811.0 1201.6 L814.9 1200.5 L818.8 1199.4 L822.7 1198.2 L826.6 1197.1 L830.6 1196.0 L834.5 1194.9 L838.4 1193.8 L842.3 1192.6 L846.2 1191.5 L850.1 1190.4 L854.0 1189.3 L858.0 1188.2 L861.9 1187.0 L865.8 1185.9 L869.7 1184.8 L873.6 1183.7 L877.5 1182.6 L881.4 1181.4 L885.4 1180.3 L889.3 1179.2 L893.2 1178.1 L897.1 1176.9 L901.0 1175.8 L904.9 1174.7 L908.8 1173.6 L912.8 1172.5 L916.7 1171.3 L920.6 1170.2 L924.5 1169.1 L928.4 1168.0 L932.3 1166.8 L936.2 1165.7 L940.1 1164.6 L944.1 1163.5 L948.0 1162.3 L951.9 1161.2 L955.8 1160.1 L959.7 1158.9 L963.6 1157.8 L967.5 1156.7 L971.5 1155.6 L975.4 1154.4 L979.3 1153.3 L983.2 1152.2 L987.1 1151.1 L991.0 1149.9 L994.9 1148.8 L998.9 1147.7 L1002.8 1146.5 L1006.7 1145.4 L1010.6 1144.3 L1014.5 1143.2 L1018.4 1142.0 L1022.3 1140.9 L1026.3 1139.8 L1030.2 1138.6 L1034.1 1137.5 L1038.0 1136.4 L1041.9 1135.2 L1045.8 1134.1 L1049.7 1133.0 L1053.6 1131.9 L1057.6 1130.7 L1061.5 1129.6 L1065.4 1128.5 L1069.3 1127.3 L1073.2 1126.2 L1077.1 1125.1 L1081.0 1123.9 L1085.0 1122.8 L1088.9 1121.7 L1092.8 1120.5 L1096.7 1119.4 L1100.6 1118.3 L1104.5 1117.1 L1108.4 1116.0 L1112.4 1114.9 L1116.3 1113.7 L1120.2 1112.6 L1124.1 1111.5 L1128.0 1110.3 L1131.9 1109.2 L1135.8 1108.1 L1139.8 1106.9 L1143.7 1105.8 L1147.6 1104.7 L1151.5 1103.5 L1155.4 1102.4 L1159.3 1101.3 L1163.2 1100.1 L1167.1 1099.0 L1171.1 1097.9 L1175.0 1096.7 L1178.9 1095.6 L1182.8 1094.5 L1186.7 1093.3 L1190.6 1092.2 L1194.5 1091.1 L1198.5 1089.9 L1202.4 1088.8 L1206.3 1087.7 L1210.2 1086.5 L1214.1 1085.4 L1218.0 1084.3 L1221.9 1083.1 L1225.9 1082.0 L1229.8 1080.8 L1233.7 1079.7 L1237.6 1078.6 L1241.5 1077.4 L1245.4 1076.3 L1249.3 1075.2 L1253.2 1074.0 L1257.2 1072.9 L1261.1 1071.8 L1265.0 1070.6 L1268.9 1069.5 L1272.8 1068.3 L1276.7 1067.2 L1280.6 1066.1 L1284.6 1064.9 L1288.5 1063.8 L1292.4 1062.7 L1296.3 1061.5 L1300.2 1060.4 L1304.1 1059.3 L1308.0 1058.1 L1312.0 1057.0 L1315.9 1055.8 L1319.8 1054.7 L1323.7 1053.6 L1327.6 1052.4 L1331.5 1051.3 L1335.4 1050.1 L1339.4 1049.0 L1343.3 1047.9 L1347.2 1046.7 L1351.1 1045.6 L1355.0 1044.5 L1358.9 1043.3 L1362.8 1042.2 L1366.7 1041.0 L1370.7 1039.9 L1374.6 1038.8 L1378.5 1037.6 L1382.4 1036.5 L1386.3 1035.4 L1390.2 1034.2 L1394.1 1033.1 L1398.1 1031.9 L1402.0 1030.8 L1405.9 1029.7 L1409.8 1028.5 L1413.7 1027.4 L1417.6 1026.2 L1421.5 1025.1 L1425.5 1024.0 L1429.4 1022.8 L1433.3 1021.7 L1437.2 1020.5 L1441.1 1019.4 L1445.0 1018.3 L1448.9 1017.1 L1452.8 1016.0 L1456.8 1014.8 L1460.7 1013.7 L1464.6 1012.6 L1468.5 1011.4 L1472.4 1010.3 L1476.3 1009.1 L1480.2 1008.0 L1484.2 1006.9 L1488.1 1005.7 L1492.0 1004.6 L1495.9 1003.4 L1499.8 1002.3 L1503.7 1001.2 L1507.6 1000.0 L1511.6 998.9 L1515.5 997.7 L1519.4 996.6 L1523.3 995.5 L1527.2 994.3 L1531.1 993.2 L1535.0 992.0 L1539.0 990.9 L1542.9 989.8 L1546.8 988.6 L1550.7 987.5 L1554.6 986.3 L1558.5 985.2 L1562.4 984.1 L1566.3 982.9 L1570.3 981.8 L1574.2 980.6 L1578.1 979.5 L1582.0 978.3 L1585.9 977.2 L1589.8 976.1 L1593.7 974.9 L1597.7 973.8 L1601.6 972.6 L1605.5 971.5 L1609.4 970.4 L1613.3 969.2 L1617.2 968.1 L1621.1 966.9 L1625.1 965.8 L1629.0 964.6 L1632.9 963.5 L1636.8 962.4 L1640.7 961.2 L1644.6 960.1 L1648.5 958.9 L1652.5 957.8 L1656.4 956.7 L1660.3 955.5 L1664.2 954.4 L1668.1 953.2 L1672.0 952.1 L1675.9 950.9 L1679.8 949.8 L1683.8 948.7 L1687.7 947.5 L1691.6 946.4 L1695.5 945.2 L1699.4 944.1 L1703.3 942.9 L1707.2 941.8 L1711.2 940.7 L1715.1 939.5 L1719.0 938.4 L1722.9 937.2 L1726.8 936.1 L1730.7 935.0 L1734.6 933.8 L1738.6 932.7 L1742.5 931.5 L1746.4 930.4 L1750.3 929.2 L1754.2 928.1 L1758.1 927.0 L1762.0 925.8 L1766.0 924.7 L1769.9 923.5 L1773.8 922.4 L1777.7 921.2 L1781.6 920.1 L1785.5 919.0 L1789.4 917.8 L1793.3 916.7 L1797.3 915.5 L1801.2 914.4 L1805.1 913.2 L1809.0 912.1 L1812.9 910.9 L1816.8 909.8 L1820.7 908.7 L1824.7 907.5 L1828.6 906.4 L1832.5 905.2 L1836.4 904.1 L1840.3 902.9 L1844.2 901.8 L1848.1 900.7 L1852.1 899.5 L1856.0 898.4 L1859.9 897.2 L1863.8 896.1 L1867.7 894.9 L1871.6 893.8 L1875.5 892.7 L1879.4 891.5 L1883.4 890.4 L1887.3 889.2 L1891.2 888.1 L1895.1 886.9 L1899.0 885.8 L1902.9 884.6 L1906.8 883.5 L1910.8 882.4 L1914.7 881.2 L1918.6 880.1 L1922.5 878.9" stroke="#ff0000" stroke-width="9.8"/>
</g>
<g font-size="71" text-anchor="end"><text x="316" y="1339.0">0</text><text x="316" y="1129.6">500</text><text x="316" y="920.3">1000</text><text x="316" y="710.9">1500</text><text x="316" y="501.5">2000</text><text x="316" y="292.2">2500</text><text x="316" y="82.8">3000</text></g>
<g font-size="71" text-anchor="middle"><text x="357.0" y="1414.5">0</text><text x="670.1" y="1414.5">20</text><text x="983.2" y="1414.5">40</text><text x="1296.3" y="1414.5">60</text><text x="1609.4" y="1414.5">80</text><text x="1922.5" y="1414.5">100</text></g>
<text x="618.2" y="1527" font-size="83">Deposition thickness H (nm)</text>
<text transform="translate(96 1079) rotate(-90)" x="0" y="0" font-size="83">Nanowire length L (nm)</text>
<g font-size="66">
<text x="382.2" y="163.3">P=800 nm</text>
<text x="384" y="248">R<tspan font-size="43" dy="17">0</tspan><tspan dy="-17">=</tspan></text>
<path d="M376.5 293.5H521.5" stroke="#000000" stroke-width="10.0" stroke-linecap="round"/><text x="539.5" y="316.7">15 nm</text><path d="M376.5 372.3H521.5" stroke="#0000ff" stroke-width="11.0" stroke-linecap="round"/><text x="539.5" y="394.7">30 nm</text><path d="M376.5 451.6H521.5" stroke="#00ff00" stroke-width="11.2" stroke-linecap="round"/><text x="539.5" y="473.6">45 nm</text><path d="M376.5 530.3H521.5" stroke="#ff00ff" stroke-width="9.8" stroke-linecap="round"/><text x="539.5" y="551.5">60 nm</text><path d="M376.5 609.6H521.5" stroke="#ff0000" stroke-width="9.8" stroke-linecap="round"/><text x="539.5" y="631.4">75 nm</text>
</g>
</g>
</svg>
</body></html>
